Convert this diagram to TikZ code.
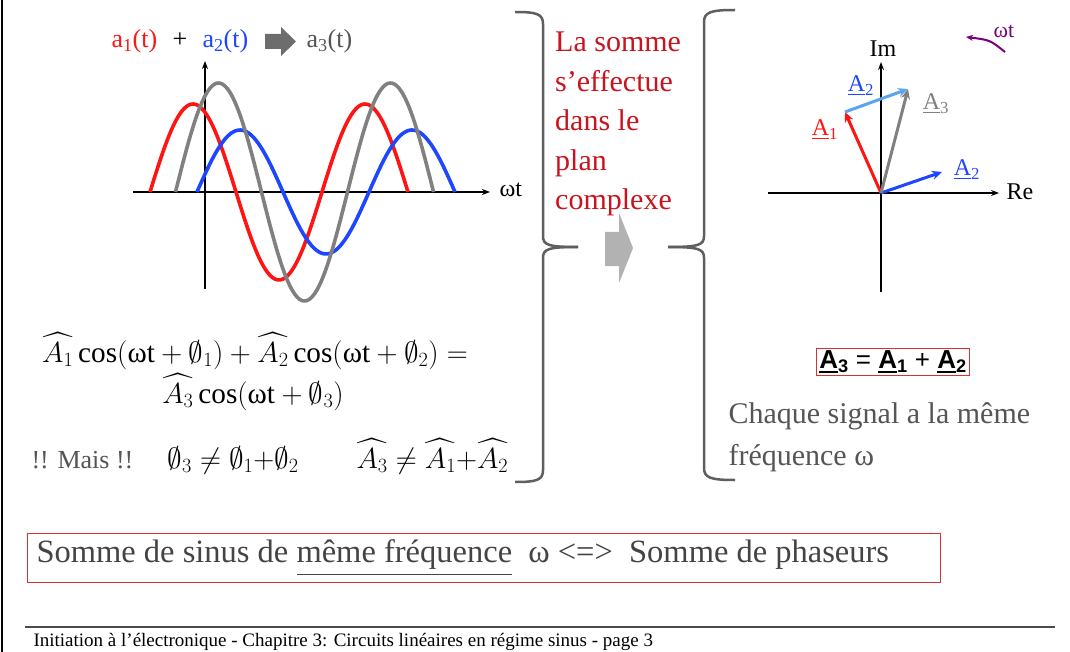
\documentclass[tikz,border=0pt]{standalone}
\usepackage{amsmath,amssymb}
\usepackage{graphicx}
\usepackage{fontspec}
\setmainfont{Liberation Serif}
\newfontfamily\arialf{Liberation Sans}
\usetikzlibrary{arrows.meta}
\definecolor{cred}{RGB}{255,20,20}
\definecolor{cblue}{RGB}{30,70,255}
\definecolor{cgray}{RGB}{128,128,128}
\definecolor{clblue}{RGB}{90,165,240}
\definecolor{darkred}{RGB}{200,20,30}
\definecolor{txtgray}{RGB}{85,85,85}
\definecolor{bracegray}{RGB}{95,95,95}
\definecolor{boxred}{RGB}{215,50,50}
\definecolor{cpurple}{RGB}{120,0,120}
\newcommand\ulA[1]{\underline{A}\textsubscript{#1}}
\newcommand\scaledmath[1]{\scalebox{1.17}{$#1$}}
\begin{document}
\begin{tikzpicture}[x=1pt,y=-1pt,
  wave/.style={line width=3.6pt},
  axis/.style={line width=1.4pt,-{Stealth[length=8pt,width=6pt]}},
  vec/.style={line width=3pt,-{Stealth[length=10pt,width=9pt]}},
  brace/.style={line width=2.5pt,bracegray},
  f24/.style={font=\fontsize{24}{28}\selectfont},
  f26/.style={font=\fontsize{26}{30}\selectfont},
  f30/.style={font=\fontsize{30}{36}\selectfont},
  math/.style={font=\fontsize{25}{30}\selectfont}]
\useasboundingbox (0,0) rectangle (1070,652);
\fill[white] (0,0) rectangle (1070,652);
% left frame line
\draw[line width=2pt] (1.5,0) -- (1.5,652);

% title
\node[f26,cred,anchor=base west] (a1) at (108,48) {a\textsubscript{1}(t)};
\node[f26,anchor=base] (plus) at (180,48) {+};
\node[f26,cblue,anchor=base west] (a2) at (199,48) {a\textsubscript{2}(t)};
\fill[cgray!85!black] (265,34) -- (281,34) -- (281,27) -- (296,41.5) -- (281,56) -- (281,49) -- (265,49) -- cycle;
\node[f26,txtgray,anchor=base west] (a3) at (303,48) {a\textsubscript{3}(t)};

% wave axes
\coordinate (xs) at (133,192);
\coordinate (xe) at (490,192);
\coordinate (ys) at (205,289);
\coordinate (ye) at (205,61);
\draw[axis] (xs) -- (xe);
\draw[axis] (ys) -- (ye);
\node[f24,anchor=west] (wt) at (496,190) {ωt};
% waves
\draw[wave,cred] plot[domain=0:258,samples=120,smooth] ({150+\x},{192-88*sin(\x*2.093)});
\draw[wave,cblue] plot[domain=0:258,samples=120,smooth] ({197+\x},{192-62*sin(\x*2.093)});
\draw[wave,cgray] plot[domain=0:258,samples=120,smooth] ({175.5+\x},{192-109*sin(\x*2.093)});

% formulas
\node[math,anchor=base] (eq1) at (255,362) {\scaledmath{\widehat{A_1}\cos(\text{ωt}+\emptyset_1)+\widehat{A_2}\cos(\text{ωt}+\emptyset_2)=}};
\node[math,anchor=base] (eq2) at (253,403) {\scaledmath{\widehat{A_3}\cos(\text{ωt}+\emptyset_3)}};
\node[f26,txtgray,anchor=base west] (mais) at (28,468) {!! Mais !!};
\node[math,anchor=base west] (neq1) at (164,468) {\scaledmath{\emptyset_3\neq\emptyset_1{+}\emptyset_2}};
\node[math,anchor=base west] (neq2) at (353,468) {\scaledmath{\widehat{A_3}\neq\widehat{A_1}{+}\widehat{A_2}}};

% braces
\draw[brace] (515,12) .. controls (537,12) and (543,14) .. (543,24) -- (543,236)
  .. controls (543,245) and (548,247) .. (578,247);
\draw[brace] (578,247) .. controls (548,247) and (543,249) .. (543,258) -- (543,470)
  .. controls (543,480) and (537,482) .. (515,482);
\draw[brace] (735,10) .. controls (711,10) and (704,12) .. (704,22) -- (704,236)
  .. controls (704,245) and (699,247) .. (668,247);
\draw[brace] (668,247) .. controls (699,247) and (704,249) .. (704,258) -- (704,468)
  .. controls (704,478) and (711,480) .. (735,480);
% middle arrow
\fill[gray!60] (605,232) -- (619,232) -- (619,213) -- (633,248) -- (619,283) -- (619,266) -- (605,266) -- cycle;
% red text
\node[font=\fontsize{30}{39.5}\selectfont,darkred,anchor=north west,align=left,inner sep=0pt] (somme) at (555,32)
  {La somme\\s’effectue\\dans le\\plan\\complexe};

% phasor diagram
\coordinate (O) at (881,193);
\coordinate (ReS) at (768,193);
\coordinate (ReE) at (999,193);
\coordinate (ImS) at (881,292);
\coordinate (ImE) at (881,62);
\draw[axis] (ReS) -- (ReE);
\draw[axis] (ImS) -- (ImE);
\node[f24,anchor=west] (Re) at (1003,192) {Re};
\node[f24,anchor=south] (Im) at (883,60) {Im};
\coordinate (A1t) at (845,112);
\coordinate (A2t) at (942,172);
\coordinate (A3t) at (908,89);
\draw[vec,cred] (O) -- (A1t);
\draw[vec,cblue] (O) -- (A2t);
\draw[vec,cgray] (O) -- (A3t);
\draw[vec,clblue] (A1t) -- (A3t);
\node[f24,cred] (lA1) at (825,130) {\ulA{1}};
\node[f24,cblue] (lA2a) at (861,86) {\ulA{2}};
\node[f24,cgray] (lA3) at (936,104) {\ulA{3}};
\node[f24,cblue] (lA2b) at (967,170) {\ulA{2}};
% omega t rotation
\coordinate (rs) at (1005,52);
\coordinate (re) at (966,37);
\draw[cpurple,line width=2pt,-{Stealth[length=7pt,width=6pt]}] (rs) .. controls (990,40) .. (re);
\node[font=\fontsize{22}{24}\selectfont,cpurple] (wt2) at (1004,31) {ωt};

% A3 = A1 + A2 box
\node[draw=boxred,line width=1.3pt,inner xsep=3pt,inner ysep=2pt,font=\fontsize{26}{30}\arialf\selectfont] (sumbox) at (893,362)
  {\textbf{\underline{A}\textsubscript{3}} = \textbf{\underline{A}\textsubscript{1}} + \textbf{\underline{A}\textsubscript{2}}};
\node[f30,txtgray,anchor=base west,align=left] (chaque) at (725,423) {Chaque signal a la même};
\node[f30,txtgray,anchor=base west] (freq) at (725,465) {fréquence ω};

% bottom box
\node[draw=boxred,line width=1.2pt,minimum width=913pt,minimum height=49pt,anchor=north west] (bbox) at (27,533) {};
\node[font=\fontsize{32.5}{36}\selectfont,color=txtgray!80!black,anchor=west] (btxt) at (33,558)
  {Somme de sinus de \underline{même fréquence}\ \ ω <=>\ \ Somme de phaseurs};

% footer
\coordinate (fl) at (25,627);
\coordinate (fr) at (1055,627);
\draw[line width=2pt,black!70] (fl) -- (fr);
\node[font=\fontsize{19}{22}\selectfont,anchor=base west] (foot) at (30,646)
  {Initiation à l’électronique - Chapitre 3: Circuits linéaires en régime sinus - page 3};
\end{tikzpicture}
\end{document}
